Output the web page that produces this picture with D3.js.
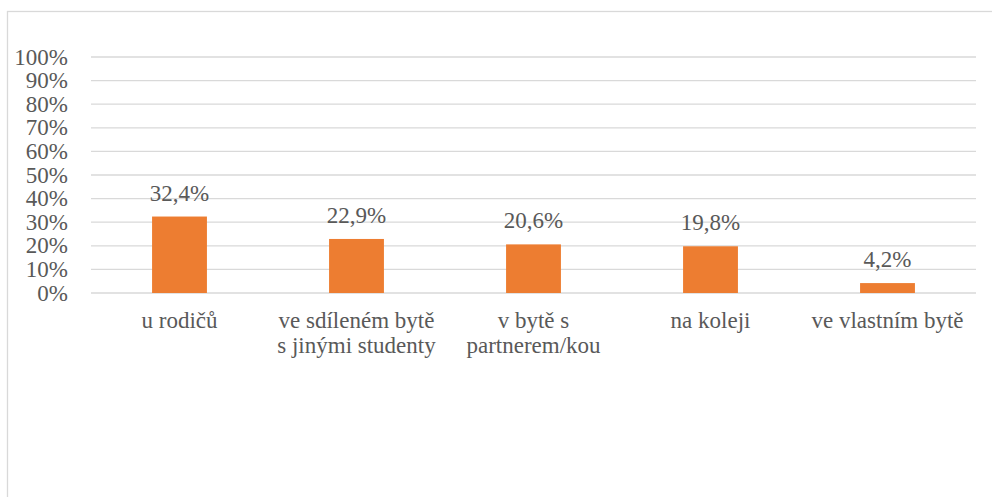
<!DOCTYPE html>
<html>
<head>
<meta charset="utf-8">
<script src="https://cdn.jsdelivr.net/npm/d3@7"></script>
<style>
  html, body { margin: 0; padding: 0; background: #fff; }
  svg { display: block; }
</style>
</head>
<body>
<svg id="chart" width="992" height="497"></svg>
<script>
const categories = ["u rodičů", "ve sdíleném bytě\ns jinými studenty", "v bytě s\npartnerem/kou", "na koleji", "ve vlastním bytě"];
const values = [32.4, 22.9, 20.6, 19.8, 4.2];
const valueLabels = ["32,4%", "22,9%", "20,6%", "19,8%", "4,2%"];
const tickValues = [0, 10, 20, 30, 40, 50, 60, 70, 80, 90, 100];

const fontSize = 23;
const textColor = "#595959";

const svg = d3.select("#chart");

svg.append("rect").attr("x", 7.5).attr("y", 11.5).attr("width", 1000).attr("height", 500)
  .attr("fill", "none").attr("stroke", "#d9d9d9").attr("stroke-width", 1.3);

const x = d3.scaleBand().domain(d3.range(categories.length)).range([91, 976])
  .paddingInner(0.69).paddingOuter(0.345);
const y = d3.scaleLinear().domain([0, 100]).range([293, 57]);

// gridlines
svg.append("g").selectAll("line").data(tickValues).join("line")
  .attr("x1", 91).attr("x2", 976)
  .attr("y1", d => y(d)).attr("y2", d => y(d))
  .attr("stroke", "#d9d9d9").attr("stroke-width", 1.3);

// y axis labels (drawn as plain text from the scale)
svg.append("g").selectAll("text").data(tickValues).join("text")
  .attr("x", 68).attr("y", d => y(d)).attr("dy", "0.33em")
  .attr("text-anchor", "end")
  .attr("font-family", "Times New Roman").attr("font-size", fontSize).attr("fill", textColor)
  .text(d => d + "%");

// bars
svg.append("g").selectAll("rect").data(values).join("rect")
  .attr("x", (d, i) => x(i)).attr("width", x.bandwidth())
  .attr("y", d => y(d)).attr("height", d => y(0) - y(d))
  .attr("fill", "#ed7d31");

// value labels
svg.append("g").selectAll("text").data(values).join("text")
  .attr("x", (d, i) => x(i) + x.bandwidth() / 2)
  .attr("y", d => y(d) - 16)
  .attr("text-anchor", "middle")
  .attr("font-family", "Tinos").attr("font-size", fontSize).attr("fill", textColor)
  .text((d, i) => valueLabels[i]);

// category labels
categories.forEach((c, i) => {
  c.split("\n").forEach((line, j) => {
    svg.append("text")
      .attr("x", x(i) + x.bandwidth() / 2)
      .attr("y", 328 + j * 25)
      .attr("text-anchor", "middle")
      .attr("font-family", "Liberation Serif").attr("font-size", fontSize).attr("fill", textColor)
      .text(line);
  });
});
</script>
</body>
</html>
